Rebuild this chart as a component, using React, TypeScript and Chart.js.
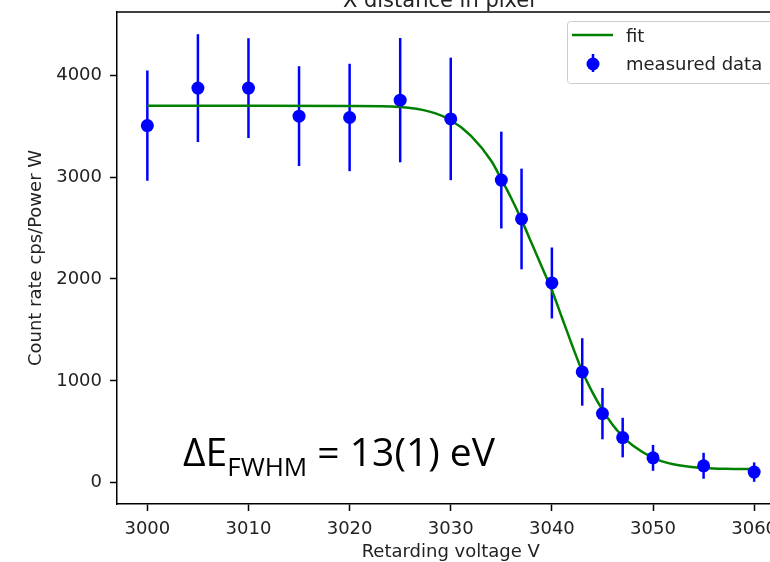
import React, { useEffect, useRef } from 'react';
import { Chart, registerables } from 'chart.js';

Chart.register(...registerables);

// Measured data (retarding voltage in V, count rate in cps/W, 1-sigma error)
const voltages = [3000, 3005, 3010, 3015, 3020, 3025, 3030, 3035, 3037, 3040, 3043, 3045, 3047, 3050, 3055, 3060];
const countRates = [3505, 3873, 3873, 3598, 3585, 3755, 3571, 2971, 2589, 1961, 1088, 679, 444, 245, 167, 105];
const countErrors = [541, 529, 490, 490, 527, 610, 601, 475, 494, 348, 331, 252, 194, 127, 127, 95];

// Fit curve
const fitVoltages = [3000, 3010, 3020, 3025, 3028, 3030, 3032, 3034, 3035, 3036, 3037, 3038, 3039, 3040, 3041, 3042, 3043, 3044, 3045, 3046, 3047, 3048, 3050, 3052, 3055, 3058, 3060];
const fitRates = [3700, 3700, 3698, 3688, 3640, 3558, 3405, 3160, 2980, 2790, 2580, 2350, 2120, 1890, 1620, 1350, 1095, 890, 715, 570, 455, 365, 245, 182, 145, 136, 134];

const xTicks = [3000, 3010, 3020, 3030, 3040, 3050, 3060];
const yTicks = [0, 1000, 2000, 3000, 4000];

const X_MIN = 2997;
const X_MAX = 3063;
const Y_MIN = -208;
const Y_MAX = 4620;

const TEXT = '#222222';
const FONT = 'DejaVu Sans';
const BLUE = '#0000ff';
const GREEN = '#008000';

const overlay = {
  id: 'overlay',
  beforeDatasetsDraw(chart: any) {
    const { ctx, scales } = chart;
    const x = scales.x;
    const y = scales.y;
    ctx.save();
    ctx.strokeStyle = BLUE;
    ctx.lineWidth = 2.5;
    voltages.forEach((v, i) => {
      const px = x.getPixelForValue(v);
      ctx.beginPath();
      ctx.moveTo(px, y.getPixelForValue(countRates[i] - countErrors[i]));
      ctx.lineTo(px, y.getPixelForValue(countRates[i] + countErrors[i]));
      ctx.stroke();
    });
    ctx.restore();
  },
  afterDraw(chart: any) {
    const { ctx, chartArea } = chart;
    const { left, right, top } = chartArea;
    ctx.save();
    // top frame
    ctx.strokeStyle = '#000';
    ctx.lineWidth = 1.5;
    ctx.beginPath();
    ctx.moveTo(left, top);
    ctx.lineTo(right, top);
    ctx.stroke();

    // cut-off title
    ctx.fillStyle = TEXT;
    ctx.font = `21px "${FONT}"`;
    ctx.textAlign = 'center';
    ctx.textBaseline = 'alphabetic';
    ctx.fillText('X distance in pixel', left + 322, 7);

    // annotation
    ctx.fillStyle = '#000';
    ctx.textAlign = 'left';
    let ax = left + 66;
    const ay = 466;
    ctx.font = '39px "Open Sans"';
    ctx.fillText('ΔE', ax, ay);
    ax += ctx.measureText('ΔE').width;
    ctx.font = '26px "Open Sans"';
    ctx.fillText('FWHM', ax, ay + 10);
    ax += ctx.measureText('FWHM').width;
    ctx.font = '39px "Open Sans"';
    ctx.fillText(' = 13(1) eV', ax, ay);

    // legend
    const ll = left + 450;
    const lr = ll + 209;
    const lt = top + 9;
    const lb = lt + 62;
    ctx.fillStyle = 'rgba(255,255,255,0.8)';
    ctx.strokeStyle = '#cccccc';
    ctx.lineWidth = 1;
    ctx.beginPath();
    (ctx as any).roundRect(ll + 0.5, lt + 0.5, lr - ll, lb - lt, 3);
    ctx.fill();
    ctx.stroke();

    ctx.strokeStyle = GREEN;
    ctx.lineWidth = 2.5;
    ctx.beginPath();
    ctx.moveTo(ll + 5, lt + 14);
    ctx.lineTo(ll + 46, lt + 14);
    ctx.stroke();

    ctx.strokeStyle = BLUE;
    ctx.lineWidth = 2.5;
    ctx.beginPath();
    ctx.moveTo(ll + 26, lt + 33);
    ctx.lineTo(ll + 26, lt + 51);
    ctx.stroke();
    ctx.fillStyle = BLUE;
    ctx.beginPath();
    ctx.arc(ll + 26, lt + 43, 6.5, 0, Math.PI * 2);
    ctx.fill();

    ctx.fillStyle = TEXT;
    ctx.font = `18px "${FONT}"`;
    ctx.textAlign = 'left';
    ctx.fillText('fit', ll + 59, lt + 21);
    ctx.fillText('measured data', ll + 59, lt + 49);
    ctx.restore();
  },
};

export default function App() {
  const ref = useRef<HTMLCanvasElement>(null);

  useEffect(() => {
    if (!ref.current) return;
    const chart = new Chart(ref.current, {
      type: 'scatter',
      data: {
        datasets: [
          {
            type: 'line',
            label: 'fit',
            data: fitVoltages.map((v, i) => ({ x: v, y: fitRates[i] })),
            borderColor: GREEN,
            borderWidth: 2.5,
            pointRadius: 0,
            cubicInterpolationMode: 'monotone',
            fill: false,
            order: 2,
          } as any,
          {
            type: 'scatter',
            label: 'measured data',
            data: voltages.map((v, i) => ({ x: v, y: countRates[i] })),
            backgroundColor: BLUE,
            borderWidth: 0,
            pointRadius: 6.5,
            order: 1,
          } as any,
        ],
      },
      options: {
        animation: false,
        responsive: false,
        devicePixelRatio: 1,
        layout: { padding: { top: 12, left: 0, right: 0, bottom: 0 } },
        plugins: {
          legend: { display: false },
          tooltip: { enabled: false },
        },
        scales: {
          x: {
            type: 'linear',
            min: X_MIN,
            max: X_MAX,
            afterBuildTicks: (s: any) => {
              s.ticks = xTicks.map((v) => ({ value: v }));
            },
            afterFit: (s: any) => {
              s.height = 58;
              s.paddingLeft = 0;
              s.paddingRight = 0;
            },
            ticks: {
              color: TEXT,
              font: { family: FONT, size: 18 },
              padding: 8,
              maxRotation: 0,
              autoSkip: false,
              callback: (v: any) => String(v),
            },
            grid: {
              display: true,
              drawOnChartArea: false,
              drawTicks: true,
              tickLength: 7,
              tickWidth: 1.5,
              tickColor: '#000',
              color: '#000',
            },
            border: { display: true, color: '#000', width: 1.5 },
            title: {
              display: true,
              text: 'Retarding voltage V',
              color: TEXT,
              font: { family: FONT, size: 18 },
              padding: { top: 0, bottom: -1 },
            },
          },
          y: {
            type: 'linear',
            min: Y_MIN,
            max: Y_MAX,
            afterBuildTicks: (s: any) => {
              s.ticks = yTicks.map((v) => ({ value: v }));
            },
            afterFit: (s: any) => {
              s.width = 117;
              s.paddingTop = 0;
              s.paddingBottom = 0;
            },
            ticks: {
              color: TEXT,
              font: { family: FONT, size: 18 },
              padding: 8,
              autoSkip: false,
              callback: (v: any) => String(v),
            },
            grid: {
              display: true,
              drawOnChartArea: false,
              drawTicks: true,
              tickLength: 7,
              tickWidth: 1.5,
              tickColor: '#000',
              color: '#000',
            },
            border: { display: true, color: '#000', width: 1.5 },
            title: {
              display: true,
              text: 'Count rate cps/Power W',
              color: TEXT,
              font: { family: FONT, size: 18 },
              padding: { top: 26, bottom: 0 },
            },
          },
        },
      } as any,
      plugins: [overlay],
    });
    return () => chart.destroy();
  }, []);

  return (
    <div style={{ position: 'absolute', left: 0, top: 0, width: 770, height: 562, overflow: 'hidden', background: '#fff' }}>
      <canvas ref={ref} width={791} height={562} style={{ display: 'block', width: 791, height: 562 }} />
    </div>
  );
}
